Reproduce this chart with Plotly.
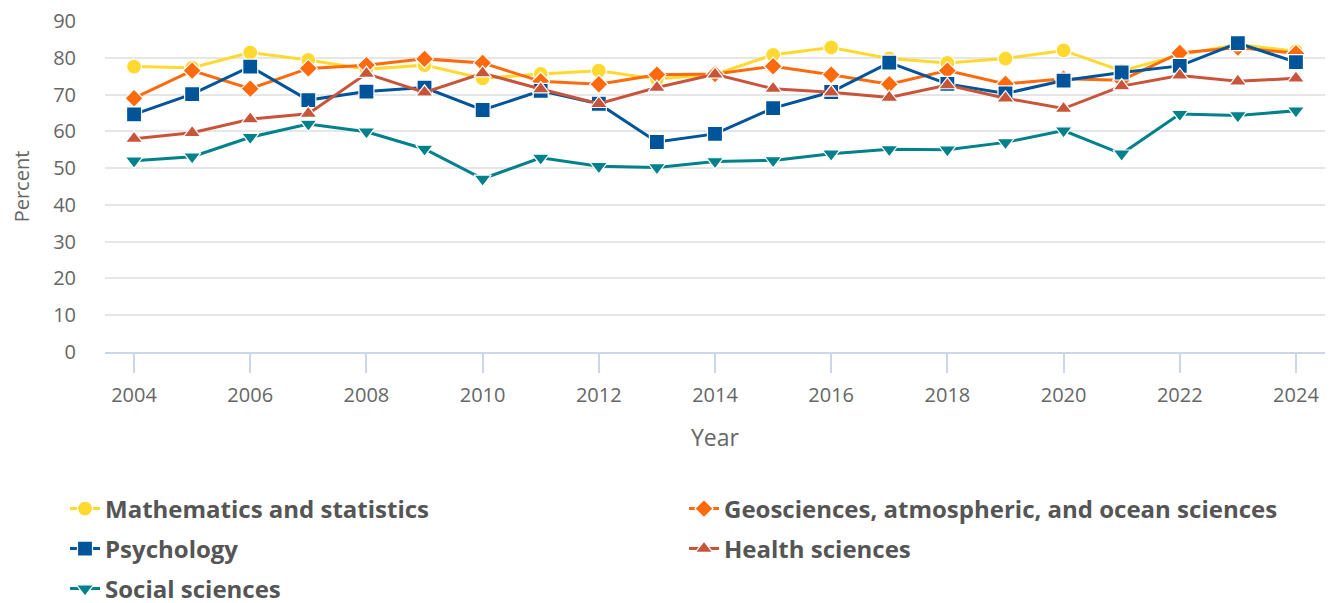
import plotly.graph_objects as go

years = list(range(2004, 2025))

math_stats = [77.6, 77.3, 81.4, 79.4, 76.9, 78.0, 74.4, 75.6, 76.5, 74.2, 75.5, 80.8, 82.8, 79.8, 78.6, 79.8, 82.0, 76.4, 80.8, 83.6, 81.8]
geosciences = [69.0, 76.5, 71.6, 77.1, 78.0, 79.7, 78.6, 73.6, 72.8, 75.4, 75.6, 77.7, 75.4, 72.8, 76.5, 72.9, 74.3, 73.9, 81.3, 82.8, 81.2]
psychology = [64.6, 70.1, 77.6, 68.5, 70.8, 71.9, 65.8, 71.0, 67.5, 57.1, 59.3, 66.3, 70.7, 78.7, 72.9, 70.3, 73.8, 76.0, 77.8, 84.0, 78.8]
health = [58.0, 59.6, 63.3, 64.8, 75.7, 70.6, 75.8, 71.5, 67.5, 71.9, 75.5, 71.6, 70.6, 69.2, 72.6, 69.0, 66.2, 72.3, 75.2, 73.6, 74.4]
social = [52.0, 53.1, 58.4, 62.0, 59.9, 55.2, 47.1, 52.8, 50.5, 50.2, 51.8, 52.1, 53.9, 55.1, 55.0, 57.0, 60.2, 53.9, 64.7, 64.3, 65.6]

series = [
    ("Mathematics and statistics", math_stats, "#FFD92F", "circle", "legend"),
    ("Geosciences, atmospheric, and ocean sciences", geosciences, "#FF6A0D", "diamond", "legend"),
    ("Psychology", psychology, "#00549A", "square", "legend2"),
    ("Health sciences", health, "#C8553A", "triangle-up", "legend2"),
    ("Social sciences", social, "#00818C", "triangle-down", "legend3"),
]

fig = go.Figure()
for name, vals, color, sym, lg in series:
    fig.add_trace(go.Scatter(
        x=years, y=vals, name=name, mode="lines+markers", legend=lg,
        line=dict(color=color, width=3),
        marker=dict(symbol=sym, size=15 if sym != "diamond" else 14, color=color,
                    line=dict(color="white", width=1.2)),
    ))

# page has an 8px body margin; work in figure coordinates
W, H = 1327, 640
plot_top, plot_bottom = 13, 344
plot_left, plot_right = 97, 1317
ph = plot_bottom - plot_top
pw = plot_right - plot_left

def paper_y(py):
    return (plot_bottom - py) / ph

def paper_x(px):
    return (px - plot_left) / pw

legend_common = dict(
    orientation="h", xanchor="left", yanchor="middle",
    entrywidth=574, entrywidthmode="pixels",
    font=dict(size=24, color="#555555", weight="bold", family="Open Sans"),
    itemwidth=30, bgcolor="rgba(0,0,0,0)",
)
rows_y = [501, 541, 581]
lx = paper_x(57)

fig.update_layout(
    width=W, height=H,
    margin=dict(l=plot_left, r=W - plot_right, t=plot_top, b=H - plot_bottom),
    paper_bgcolor="white", plot_bgcolor="white",
    font=dict(family="Open Sans", color="#666666", size=20),
    showlegend=True,
    legend=dict(legend_common, x=lx, y=paper_y(rows_y[0])),
    legend2=dict(legend_common, x=lx, y=paper_y(rows_y[1])),
    legend3=dict(legend_common, x=lx, y=paper_y(rows_y[2])),
    xaxis=dict(
        range=[2003.5, 2024.5], tickmode="linear", tick0=2004, dtick=2,
        showgrid=False, showline=True, linecolor="#CCD6EB", linewidth=2,
        ticks="outside", ticklen=19, tickcolor="#CCD6EB", tickwidth=2,
        ticklabelstandoff=5,
        title=dict(text="Year", font=dict(size=23, color="#666666"), standoff=23),
        tickfont=dict(size=20, color="#666666"),
        zeroline=False, automargin=False,
    ),
    yaxis=dict(
        range=[0, 90], tickmode="linear", tick0=0, dtick=10,
        showgrid=True, gridcolor="#E6E6E6", gridwidth=2,
        zeroline=False, showline=False,
        ticklabelstandoff=28, ticklabeloverflow="allow",
        title=dict(text="Percent", font=dict(size=20, color="#666666"), standoff=19),
        tickfont=dict(size=20, color="#666666"),
        automargin=False,
    ),
)

fig.write_html("out.html")
